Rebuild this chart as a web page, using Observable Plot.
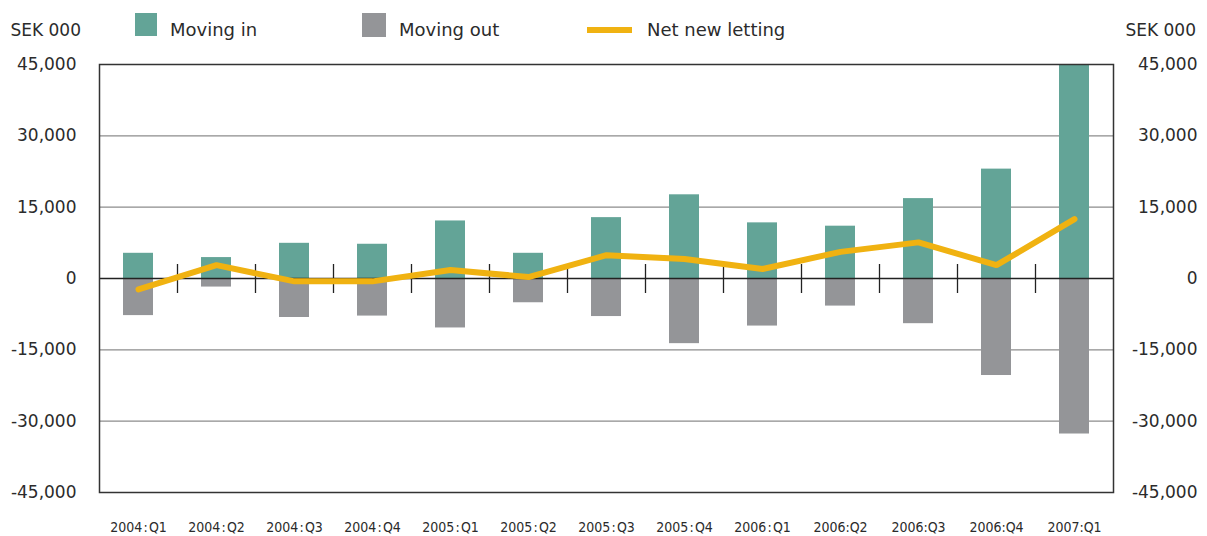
<!DOCTYPE html>
<html>
<head>
<meta charset="utf-8">
<script src="https://cdn.jsdelivr.net/npm/d3@7"></script>
<script src="https://cdn.jsdelivr.net/npm/@observablehq/plot@0.6"></script>
<style>
  html, body { margin: 0; padding: 0; background: #fff; }
  #wrap { position: relative; width: 1207px; height: 536px; }
  #wrap > svg { position: absolute; left: 0; top: 0; }
</style>
</head>
<body>
<div id="wrap"></div>
<script>
// ---- data ----
const quarters = ["2004:Q1","2004:Q2","2004:Q3","2004:Q4","2005:Q1","2005:Q2","2005:Q3","2005:Q4","2006:Q1","2006:Q2","2006:Q3","2006:Q4","2007:Q1"];
const quarterLabels = ["2004\u200a:\u200aQ1","2004\u200a:\u200aQ2","2004\u200a:\u200aQ3","2004\u200a:\u200aQ4","2005\u200a:\u200aQ1","2005\u200a:\u200aQ2","2005\u200a:\u200aQ3","2005\u200a:\u200aQ4","2006\u200a:\u200aQ1","2006:Q2","2006:Q3","2006:Q4","2007:Q1"];
const movingIn  = [5300, 4400, 7400, 7200, 12100, 5300, 12800, 17600, 11700, 11000, 16800, 23000, 44800];
const movingOut = [-7800, -1800, -8200, -7900, -10400, -5100, -8000, -13700, -10000, -5800, -9500, -20400, -32700];
const netLetting = [-2300, 2800, -600, -600, 1800, 300, 4900, 4100, 2000, 5600, 7600, 2800, 12500];
const yTicks = [-45000, -30000, -15000, 0, 15000, 30000, 45000];
const gridValues = [-30000, -15000, 15000, 30000];
const unitLabel = "SEK 000";
const seriesNames = ["Moving in", "Moving out", "Net new letting"];

// ---- styles ----
const TEAL = "#63a497", GREY = "#949598", YELLOW = "#f0b211", INK = "#2b2b2b";
const W = 1207, H = 536, ML = 99, MR = 94, MT = 64, MB = 44;
const step = (W - ML - MR) / quarters.length;

const rows = quarters.map((q, i) => ({q, inV: movingIn[i], outV: movingOut[i], net: netLetting[i]}));
const fmt = d => d3.format(",")(d).replace("\u2212", "-");
const labelOf = new Map(quarters.map((q, i) => [q, quarterLabels[i]]));

const chart = Plot.plot({
  width: W, height: H,
  marginLeft: ML, marginRight: MR, marginTop: MT, marginBottom: MB,
  style: {fontFamily: "'DejaVu Sans', sans-serif", color: INK, background: "transparent"},
  x: {type: "band", domain: quarters, padding: 0},
  y: {domain: [-45000, 45000]},
  marks: [
    Plot.ruleY(gridValues, {stroke: "#8c8c8c", strokeWidth: 1.2}),
    Plot.rectY(rows, {x: "q", y1: 0, y2: "inV", fill: TEAL, insetLeft: 24, insetRight: 24}),
    Plot.rectY(rows, {x: "q", y1: 0, y2: "outV", fill: GREY, insetLeft: 24, insetRight: 24}),
    Plot.ruleY([0], {stroke: "#222", strokeWidth: 1.3}),
    Plot.ruleX(quarters.slice(1), {x: d => d, y1: 0, y2: 0, insetTop: -14, insetBottom: -15, dx: -step / 2, stroke: "#222", strokeWidth: 1.3}),
    Plot.line(rows, {x: "q", y: "net", stroke: YELLOW, strokeWidth: 6, strokeLinejoin: "miter"}),
    Plot.frame({stroke: "#333", strokeWidth: 1.5}),
    Plot.axisY(yTicks, {anchor: "left", tickSize: 0, tickPadding: 23, tickFormat: fmt, fontSize: 17, fill: INK, label: null}),
    Plot.axisY(yTicks, {anchor: "right", tickSize: 0, tickPadding: 84, textAnchor: "end", tickFormat: fmt, fontSize: 17, fill: INK, label: null}),
    Plot.axisX({anchor: "bottom", tickSize: 0, tickPadding: 30, tickFormat: d => labelOf.get(d), fontSize: 14, fontFamily: "'DejaVu Sans Condensed', 'DejaVu Sans', sans-serif", fill: INK, label: null})
  ]
});
document.getElementById("wrap").appendChild(chart);

// ---- legend & unit labels (above the plot area) ----
const leg = d3.select("#wrap").append("svg")
  .attr("width", W).attr("height", 60)
  .style("font-family", "'DejaVu Sans', sans-serif");
leg.append("text").attr("x", 81).attr("y", 36).attr("text-anchor", "end").attr("font-size", 17).attr("fill", INK).text(unitLabel);
leg.append("text").attr("x", 1196).attr("y", 36).attr("text-anchor", "end").attr("font-size", 17).attr("fill", INK).text(unitLabel);
leg.append("rect").attr("x", 135).attr("y", 13).attr("width", 22).attr("height", 23).attr("fill", TEAL);
leg.append("text").attr("x", 170).attr("y", 36).attr("font-size", 18).attr("fill", INK).text(seriesNames[0]);
leg.append("rect").attr("x", 362).attr("y", 13).attr("width", 24).attr("height", 24).attr("fill", GREY);
leg.append("text").attr("x", 399).attr("y", 36).attr("font-size", 18).attr("fill", INK).text(seriesNames[1]);
leg.append("rect").attr("x", 587).attr("y", 27).attr("width", 45).attr("height", 6).attr("fill", YELLOW);
leg.append("text").attr("x", 647).attr("y", 36).attr("font-size", 18).attr("fill", INK).text(seriesNames[2]);
</script>
</body>
</html>
